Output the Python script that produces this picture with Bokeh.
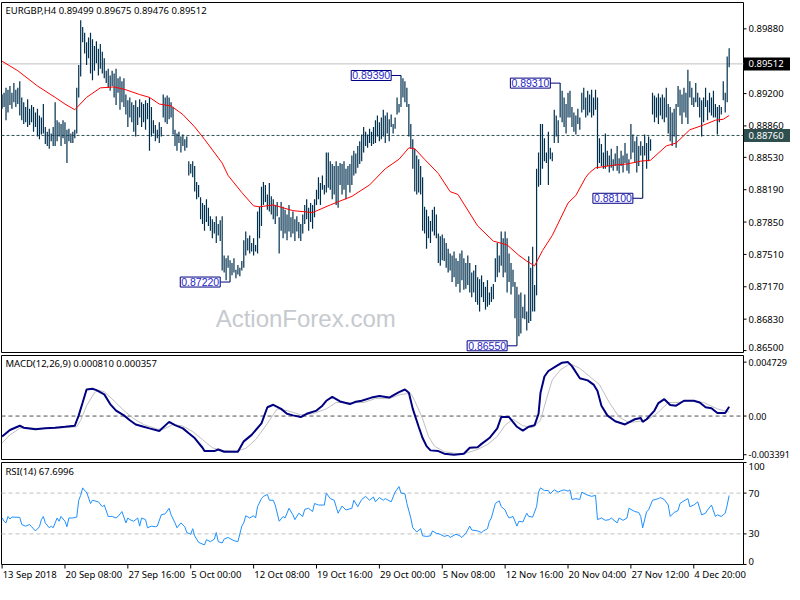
from bokeh.plotting import figure
from bokeh.layouts import column
from bokeh.models import Range1d, Label
from bokeh.core.properties import value
from bokeh.embed import file_html
from bokeh.resources import INLINE

# ---------------- data ----------------
symbol = "EURGBP,H4"
last_open, last_high, last_low, last_close = 0.89499, 0.89675, 0.89476, 0.89512
level_line = 0.88760

bar_high = [
 0.8919,0.8921,0.8926,0.8924,0.8928,0.8921,0.8931,0.8924,0.8926,0.8933,
 0.8916,0.8911,0.8906,0.8914,0.8904,0.8908,0.8906,0.8900,0.8904,0.8897,
 0.8895,0.8909,0.8885,0.8880,0.8883,0.8878,0.8885,0.8911,0.8892,0.8890,
 0.8888,0.8892,0.8890,0.8882,0.8883,0.8878,0.8880,0.8882,0.8926,0.8950,
 0.8997,0.8990,0.8984,0.8974,0.8979,0.8984,0.8977,0.8970,0.8975,0.8967,
 0.8972,0.8964,0.8957,0.8944,0.8946,0.8939,0.8944,0.8941,0.8946,0.8936,
 0.8938,0.8933,0.8936,0.8919,0.8913,0.8916,0.8911,0.8908,0.8913,0.8906,
 0.8914,0.8911,0.8909,0.8913,0.8910,0.8916,0.8906,0.8892,0.8887,0.8882,
 0.8890,0.8885,0.8919,0.8916,0.8918,0.8916,0.8911,0.8906,0.8882,0.8878,
 0.8880,0.8875,0.8877,0.8872,0.8875,0.8849,0.8846,0.8849,0.8844,0.8827,
 0.8824,0.8811,0.8805,0.8803,0.8809,0.8800,0.8791,0.8788,0.8785,0.8791,
 0.8783,0.8787,0.8791,0.8750,0.8747,0.8750,0.8745,0.8742,0.8747,0.8735,
 0.8740,0.8737,0.8744,0.8766,0.8775,0.8768,0.8771,0.8763,0.8768,0.8761,
 0.8796,0.8801,0.8822,0.8827,0.8824,0.8814,0.8826,0.8812,0.8809,0.8803,
 0.8806,0.8790,0.8806,0.8801,0.8798,0.8793,0.8803,0.8790,0.8796,0.8788,
 0.8791,0.8785,0.8783,0.8793,0.8803,0.8809,0.8800,0.8805,0.8803,0.8809,
 0.8819,0.8832,0.8826,0.8834,0.8824,0.8858,0.8858,0.8849,0.8846,0.8844,
 0.8849,0.8844,0.8847,0.8846,0.8849,0.8841,0.8844,0.8846,0.8855,0.8860,
 0.8857,0.8865,0.8870,0.8877,0.8885,0.8880,0.8877,0.8883,0.8880,0.8885,
 0.8892,0.8897,0.8890,0.8895,0.8903,0.8897,0.8900,0.8893,0.8898,0.8888,
 0.8895,0.8916,0.8909,0.8939,0.8936,0.8933,0.8926,0.8909,0.8888,0.8872,
 0.8862,0.8855,0.8851,0.8844,0.8832,0.8801,0.8798,0.8791,0.8786,0.8798,
 0.8801,0.8793,0.8773,0.8770,0.8772,0.8768,0.8763,0.8757,0.8752,0.8750,
 0.8754,0.8747,0.8744,0.8752,0.8755,0.8747,0.8742,0.8750,0.8742,0.8732,
 0.8734,0.8740,0.8727,0.8725,0.8729,0.8722,0.8717,0.8724,0.8711,0.8717,
 0.8720,0.8747,0.8763,0.8750,0.8775,0.8768,0.8775,0.8768,0.8752,0.8742,
 0.8735,0.8722,0.8717,0.8709,0.8711,0.8696,0.8709,0.8691,0.8749,0.8737,
 0.8759,0.8719,0.8841,0.8858,0.8888,0.8888,0.8873,0.8858,0.8880,0.8863,
 0.8858,0.8903,0.8897,0.8892,0.8931,0.8923,0.8916,0.8909,0.8921,0.8923,
 0.8906,0.8900,0.8897,0.8904,0.8895,0.8921,0.8926,0.8916,0.8923,0.8919,
 0.8924,0.8916,0.8924,0.8916,0.8873,0.8867,0.8858,0.8878,0.8860,0.8855,
 0.8862,0.8851,0.8857,0.8865,0.8852,0.8860,0.8855,0.8868,0.8857,0.8851,
 0.8888,0.8877,0.8870,0.8875,0.8865,0.8870,0.8865,0.8877,0.8868,0.8875,
 0.8872,0.8921,0.8918,0.8916,0.8920,0.8916,0.8919,0.8916,0.8926,0.8909,
 0.8906,0.8900,0.8904,0.8909,0.8928,0.8924,0.8919,0.8926,0.8921,0.8945,
 0.8933,0.8926,0.8916,0.8931,0.8921,0.8916,0.8913,0.8916,0.8926,0.8913,
 0.8921,0.8916,0.8923,0.8909,0.8906,0.8908,0.8906,0.8933,0.8921,0.8959,
 0.89675]

bar_low = [
 0.8904,0.8906,0.8892,0.8900,0.8908,0.8904,0.8911,0.8906,0.8909,0.8897,
 0.8892,0.8888,0.8890,0.8885,0.8887,0.8890,0.8880,0.8885,0.8875,0.8872,
 0.8877,0.8878,0.8867,0.8865,0.8862,0.8870,0.8865,0.8865,0.8870,0.8875,
 0.8865,0.8873,0.8867,0.8847,0.8870,0.8868,0.8868,0.8873,0.8878,0.8916,
 0.8938,0.8974,0.8962,0.8950,0.8957,0.8941,0.8934,0.8944,0.8952,0.8939,
 0.8946,0.8941,0.8936,0.8931,0.8926,0.8923,0.8928,0.8916,0.8908,0.8921,
 0.8903,0.8911,0.8906,0.8898,0.8885,0.8895,0.8890,0.8880,0.8875,0.8887,
 0.8895,0.8885,0.8890,0.8882,0.8893,0.8860,0.8875,0.8878,0.8870,0.8873,
 0.8868,0.8875,0.8895,0.8890,0.8888,0.8893,0.8895,0.8877,0.8865,0.8860,
 0.8868,0.8858,0.8865,0.8860,0.8863,0.8834,0.8836,0.8832,0.8817,0.8809,
 0.8811,0.8788,0.8783,0.8776,0.8785,0.8781,0.8776,0.8768,0.8773,0.8763,
 0.8771,0.8765,0.8734,0.8732,0.8724,0.8737,0.8722,0.8729,0.8732,0.8726,
 0.8730,0.8728,0.8734,0.8737,0.8750,0.8755,0.8752,0.8754,0.8750,0.8754,
 0.8752,0.8768,0.8781,0.8803,0.8806,0.8798,0.8796,0.8793,0.8788,0.8783,
 0.8791,0.8752,0.8776,0.8768,0.8773,0.8766,0.8775,0.8769,0.8773,0.8765,
 0.8775,0.8768,0.8765,0.8773,0.8783,0.8788,0.8776,0.8785,0.8778,0.8790,
 0.8803,0.8809,0.8803,0.8819,0.8814,0.8816,0.8821,0.8819,0.8809,0.8814,
 0.8803,0.8800,0.8824,0.8814,0.8819,0.8809,0.8824,0.8816,0.8824,0.8834,
 0.8836,0.8842,0.8846,0.8849,0.8858,0.8865,0.8863,0.8868,0.8865,0.8867,
 0.8868,0.8875,0.8870,0.8872,0.8875,0.8868,0.8878,0.8870,0.8885,0.8878,
 0.8883,0.8898,0.8900,0.8906,0.8916,0.8911,0.8906,0.8875,0.8862,0.8841,
 0.8817,0.8814,0.8816,0.8814,0.8776,0.8773,0.8757,0.8768,0.8763,0.8775,
 0.8771,0.8768,0.8742,0.8739,0.8745,0.8744,0.8737,0.8732,0.8734,0.8722,
 0.8727,0.8717,0.8720,0.8711,0.8724,0.8714,0.8715,0.8719,0.8711,0.8706,
 0.8711,0.8701,0.8698,0.8691,0.8706,0.8701,0.8693,0.8696,0.8698,0.8701,
 0.8704,0.8722,0.8727,0.8732,0.8739,0.8727,0.8732,0.8711,0.8722,0.8709,
 0.8717,0.8684,0.8655,0.8665,0.8668,0.8684,0.8683,0.8671,0.8679,0.8681,
 0.8691,0.8691,0.8708,0.8822,0.8824,0.8841,0.8849,0.8847,0.8824,0.8851,
 0.8849,0.8868,0.8875,0.8868,0.8895,0.8890,0.8885,0.8878,0.8895,0.8895,
 0.8885,0.8880,0.8877,0.8888,0.8882,0.8900,0.8903,0.8895,0.8897,0.8900,
 0.8895,0.8897,0.8903,0.8841,0.8847,0.8844,0.8841,0.8841,0.8844,0.8837,
 0.8842,0.8839,0.8844,0.8839,0.8836,0.8844,0.8837,0.8847,0.8839,0.8836,
 0.8851,0.8858,0.8847,0.8837,0.8844,0.8855,0.8810,0.8855,0.8841,0.8849,
 0.8860,0.8898,0.8890,0.8895,0.8888,0.8897,0.8893,0.8890,0.8895,0.8878,
 0.8870,0.8865,0.8875,0.8863,0.8906,0.8897,0.8888,0.8900,0.8895,0.8888,
 0.8916,0.8908,0.8906,0.8911,0.8906,0.8895,0.8875,0.8890,0.8906,0.8892,
 0.8900,0.8897,0.8895,0.8895,0.8877,0.8890,0.8898,0.8913,0.8900,0.8911,
 0.89476]

# moving average (red), read at bar positions
ma_idx = [0, 8, 18, 27, 32, 37, 43, 50, 57, 63, 70, 75, 80, 86, 92, 98, 103, 112, 115,
          122, 128, 131, 138, 148, 158, 167, 178, 187, 195, 202, 207, 210, 215, 222, 228,
          232, 242, 250, 257, 263, 267, 271, 275, 280, 288, 292, 297, 299, 302, 312, 318,
          325, 330, 338, 343, 350, 357, 363, 367, 370]
ma_val = [0.8954, 0.8944, 0.8928, 0.8916, 0.8909, 0.8903, 0.8916, 0.8926, 0.8927, 0.8924,
          0.8919, 0.8916, 0.8909, 0.8907, 0.8898, 0.8885, 0.8872, 0.8847, 0.8834, 0.8816,
          0.8802, 0.8801, 0.8803, 0.8797, 0.8795, 0.8803, 0.8812, 0.8824, 0.8841, 0.8851,
          0.8863, 0.8862, 0.8851, 0.8836, 0.8817, 0.8814, 0.8781, 0.8765, 0.8761, 0.8750,
          0.8744, 0.8739, 0.8755, 0.8771, 0.8805, 0.8813, 0.8832, 0.8837, 0.8842, 0.8845,
          0.8846, 0.8849, 0.8850, 0.8865, 0.8868, 0.8882, 0.8887, 0.8892, 0.8893, 0.8897]

# swing labels
swing_idx = [116, 203, 262, 284, 326]
swing_val = [0.8722, 0.8939, 0.8655, 0.8931, 0.8810]

price_ticks = [0.8650, 0.8683, 0.8717, 0.8751, 0.8785, 0.8819, 0.8853, 0.8886, 0.8920, 0.8988]

# MACD(12,26,9)
macd_idx = [0, 4, 9, 11, 17, 22, 27, 32, 37, 39, 41, 43, 46, 48, 52, 55, 58, 62, 65, 68, 72,
            75, 80, 85, 88, 92, 95, 98, 102, 103, 108, 110, 113, 120, 123, 127, 132, 135, 138,
            142, 145, 148, 152, 155, 160, 163, 165, 168, 172, 177, 180, 183, 188, 192, 197,
            202, 205, 207, 209, 212, 214, 216, 218, 222, 225, 230, 235, 238, 242, 244, 248,
            252, 254, 258, 262, 265, 268, 271, 273, 274, 276, 278, 282, 285, 288, 290, 294,
            298, 301, 303, 305, 308, 312, 317, 322, 325, 326, 328, 332, 334, 337, 340, 343,
            347, 352, 355, 358, 361, 364, 368, 370]
macd_val = [-0.00179, -0.00122, -0.00085, -0.00102, -0.00116, -0.00108, -0.00102, -0.00094,
            -0.00085, 0.00006, 0.00119, 0.00233, 0.00239, 0.00227, 0.00190, 0.00105, 0.00048,
            0.00006, -0.00037, -0.00074, -0.00094, -0.00108, -0.00131, -0.00051, -0.00080,
            -0.00108, -0.00151, -0.00193, -0.00278, -0.00307, -0.00307, -0.00293, -0.00313,
            -0.00313, -0.00222, -0.00165, -0.00065, 0.00077, 0.00099, 0.00063, 0.00020,
            0.00006, -0.00009, 0.00020, 0.00048, 0.00091, 0.00134, 0.00168, 0.00128, 0.00105,
            0.00125, 0.00134, 0.00162, 0.00176, 0.00162, 0.00210, 0.00233, 0.00205, 0.00063,
            -0.00094, -0.00193, -0.00264, -0.00301, -0.00307, -0.00330, -0.00339, -0.00330,
            -0.00278, -0.00273, -0.00244, -0.00193, -0.00108, -0.00009, -0.00009, -0.00094,
            -0.00128, -0.00094, -0.00080, 0.00020, 0.00205, 0.00347, 0.00395, 0.00438, 0.00468,
            0.00473, 0.00438, 0.00332, 0.00313, 0.00276, 0.00219, 0.00091, 0.00006, -0.00045,
            -0.00074, -0.00028, -0.00017, -0.00051, -0.00028, 0.00048, 0.00114, 0.00148,
            0.00097, 0.00091, 0.00134, 0.00134, 0.00119, 0.00077, 0.00068, 0.00026, 0.00026,
            0.00081]
signal_idx = [0, 4, 9, 12, 18, 25, 32, 38, 40, 43, 47, 49, 52, 57, 62, 67, 72, 79, 82, 87, 92,
              97, 102, 107, 112, 119, 124, 129, 135, 140, 145, 152, 158, 165, 170, 177, 184,
              190, 197, 203, 208, 210, 214, 217, 220, 225, 232, 237, 242, 247, 252, 256, 260,
              265, 270, 274, 277, 280, 284, 289, 294, 299, 304, 309, 314, 319, 325, 330, 334,
              339, 344, 350, 357, 364, 369, 370]
signal_val = [-0.00236, -0.00165, -0.00108, -0.00102, -0.00108, -0.00108, -0.00102, -0.00094,
              -0.00037, 0.00091, 0.00205, 0.00227, 0.00213, 0.00134, 0.00048, -0.00023,
              -0.00074, -0.00114, -0.00116, -0.00074, -0.00088, -0.00136, -0.00207, -0.00278,
              -0.00301, -0.00307, -0.00284, -0.00207, -0.00065, 0.00063, 0.00048, 0.00011,
              0.00020, 0.00063, 0.00119, 0.00119, 0.00119, 0.00153, 0.00153, 0.00190, 0.00199,
              0.00134, -0.00023, -0.00179, -0.00264, -0.00313, -0.00330, -0.00321, -0.00293,
              -0.00250, -0.00179, -0.00080, -0.00028, -0.00085, -0.00102, -0.00037, 0.00148,
              0.00318, 0.00403, 0.00460, 0.00418, 0.00347, 0.00276, 0.00119, -0.00009,
              -0.00057, -0.00045, -0.00017, 0.00034, 0.00119, 0.00119, 0.00134, 0.00119,
              0.00063, 0.00040, 0.000357]
macd_last, signal_last = 0.000810, 0.000357
macd_ticks = [-0.003391, 0.0, 0.004729]
macd_tick_labels = ["-0.003391", "0.00", "0.004729"]

# RSI(14)
rsi_idx = [0, 1, 2, 3, 4, 5, 9, 10, 12, 14, 15, 17, 19, 20, 21, 22, 24, 25, 26, 28, 29, 30, 32,
           33, 34, 36, 38, 39, 40, 41, 42, 43, 45, 46, 49, 51, 52, 54, 56, 58, 59, 61, 63, 64,
           65, 67, 69, 70, 71, 73, 74, 76, 78, 79, 81, 83, 85, 86, 88, 89, 91, 93, 94, 96, 97,
           98, 100, 103, 104, 106, 108, 109, 110, 112, 113, 115, 118, 120, 122, 123, 124, 126,
           128, 129, 130, 132, 133, 135, 136, 138, 139, 141, 143, 144, 146, 148, 149, 151, 153,
           154, 156, 158, 159, 161, 164, 165, 167, 169, 171, 173, 175, 178, 179, 181, 183, 185,
           187, 189, 190, 192, 194, 195, 198, 200, 202, 203, 205, 206, 208, 209, 211, 213, 214,
           216, 218, 219, 221, 223, 225, 227, 228, 231, 233, 234, 236, 238, 239, 242, 244, 245,
           247, 248, 249, 251, 253, 254, 256, 257, 258, 260, 262, 263, 265, 267, 268, 270, 272,
           273, 274, 276, 278, 279, 281, 283, 284, 286, 288, 289, 290, 292, 294, 295, 297, 300,
           302, 303, 305, 307, 309, 310, 313, 314, 316, 318, 319, 322, 324, 325, 326, 328, 329,
           331, 334, 335, 337, 339, 340, 342, 344, 345, 347, 349, 350, 352, 354, 356, 358, 359,
           361, 363, 364, 366, 368, 369, 370]
rsi_val = [45.6, 42.4, 40.8, 47.1, 44.6, 46.5, 46.2, 39.2, 37.6, 39.2, 37.0, 32.9, 37.0, 44.0,
           47.1, 40.8, 36.0, 37.6, 36.0, 45.6, 42.4, 47.1, 42.4, 37.0, 45.6, 45.6, 46.5, 63.0,
           67.8, 75.1, 72.5, 71.0, 59.8, 63.0, 61.4, 56.7, 58.3, 47.1, 47.1, 45.6, 47.1, 51.9,
           40.8, 45.6, 44.0, 42.4, 45.6, 37.6, 45.6, 44.0, 36.0, 37.6, 37.0, 37.6, 48.7, 49.7,
           55.1, 48.7, 40.8, 36.0, 40.8, 37.0, 31.3, 29.7, 35.1, 28.1, 21.7, 19.2, 24.3, 22.4,
           24.9, 31.3, 22.4, 21.1, 24.9, 26.5, 23.3, 22.4, 37.6, 40.8, 47.8, 45.6, 47.8, 45.6,
           56.7, 64.6, 66.8, 68.7, 63.0, 63.0, 58.3, 42.4, 47.1, 45.6, 55.1, 48.7, 44.0, 50.3,
           47.1, 54.1, 55.1, 51.9, 59.8, 58.3, 58.3, 70.0, 64.6, 63.0, 50.3, 57.3, 53.5, 55.1,
           63.0, 56.7, 63.7, 66.8, 63.0, 66.2, 61.4, 65.6, 63.0, 64.6, 61.4, 71.0, 76.4, 70.0,
           69.4, 59.8, 45.6, 36.0, 31.9, 35.1, 28.1, 27.5, 28.1, 32.9, 30.6, 29.7, 27.5, 28.7,
           26.5, 29.7, 28.1, 26.5, 30.6, 37.6, 33.8, 32.9, 31.3, 32.9, 35.1, 42.4, 45.6, 59.8,
           62.4, 56.7, 53.5, 48.7, 45.6, 47.1, 37.6, 42.4, 41.7, 50.3, 47.1, 46.5, 56.7, 71.0,
           75.1, 72.5, 72.5, 69.4, 73.2, 71.0, 71.9, 73.2, 71.9, 73.2, 63.7, 64.6, 63.7, 71.0,
           68.7, 66.8, 67.8, 44.0, 45.6, 43.3, 44.0, 45.6, 40.8, 45.6, 43.3, 45.6, 55.1, 51.9,
           51.0, 47.1, 36.0, 51.9, 53.5, 63.0, 64.6, 65.6, 63.7, 58.3, 47.1, 51.0, 52.9, 59.8,
           62.4, 64.6, 56.7, 58.3, 61.4, 48.7, 50.3, 53.5, 58.3, 47.1, 48.7, 47.1, 50.3, 58.3,
           67.7]
rsi_last = "67.6996"
rsi_ticks = [0, 30, 70, 100]
rsi_levels = [30, 70]

time_idx = [0, 32, 64, 96, 128, 160, 192, 224, 256, 288, 320, 352]
time_labels = ["13 Sep 2018", "20 Sep 08:00", "27 Sep 16:00", "5 Oct 00:00", "12 Oct 08:00",
               "19 Oct 16:00", "29 Oct 00:00", "5 Nov 08:00", "12 Nov 16:00", "20 Nov 04:00",
               "27 Nov 12:00", "4 Dec 20:00"]

# ---------------- geometry / styling ----------------
FONT = "Noto Sans"
FS = "9.5px"
BAR = "#00304f"
SW_BOX = "#000080"
SW_TXT = "#2626c8"
FRAME_W = 790            # whole figure width (chart area + right scale column)
DATA_W = 742             # pixels of the chart area
X0, X1 = -0.3, 377.3     # bar-index span of the chart area
PXB = DATA_W / (X1 - X0)
XS = X0 - 1 / PXB
XE = XS + FRAME_W / PXB
TICK_END = X1 + 3 / PXB
LAB_X = X1 + 5 / PXB
BOX_X0 = X1 + 0.5 / PXB

bar_idx = list(range(len(bar_high)))
xr = Range1d(XS, XE)


def make_fig(total_h, data_h, pad_top, lo, hi):
    ppu = data_h / (hi - lo)
    pad_bot = total_h - data_h - pad_top
    yr = Range1d(lo - pad_bot / ppu, hi + pad_top / ppu)
    p = figure(frame_width=FRAME_W, frame_height=total_h, x_range=xr, y_range=yr,
               output_backend="svg", toolbar_location=None,
               x_axis_location=None, y_axis_location=None,
               min_border_left=0, min_border_right=0, min_border_top=0, min_border_bottom=0,
               background_fill_color="white", border_fill_color="white")
    p.outline_line_color = None
    p.xgrid.grid_line_color = None
    p.ygrid.grid_line_color = None
    # chart-area frame
    p.quad(left=[X0], right=[X1], bottom=[lo], top=[hi], fill_color=None,
           line_color="black", line_width=1)
    return p, ppu


def texts(p, xs, ys, labels, color="black", align="left", baseline="middle",
          size=FS, font=FONT):
    p.text(x=xs, y=ys, text=labels, text_color=color, text_font=value(font),
           text_font_size=value(size), text_align=value(align),
           text_baseline=value(baseline))


def right_scale(p, ticks, labels, size=FS, baselines=None):
    p.segment(x0=[X1] * len(ticks), y0=ticks, x1=[TICK_END] * len(ticks), y1=ticks,
              line_color="black", line_width=1)
    if baselines is None:
        baselines = ["middle"] * len(ticks)
    for t, s, b in zip(ticks, labels, baselines):
        texts(p, [LAB_X], [t], [s], size=size, baseline=b)


def lab(p, x, y, text, **kw):
    opts = dict(text_font=FONT, text_font_size=FS, text_color="black",
                text_baseline="middle", text_align="left")
    opts.update(kw)
    p.add_layout(Label(x=x, y=y, text=text, **opts))


# ---- main price panel ----
P_LO, P_HI = 0.864796, 0.90157
pm, pppu = make_fig(353, 350, 2, P_LO, P_HI)

pm.add_layout(Label(x=154.5, y=0.86837, text="ActionForex.com", text_font="Liberation Sans",
                    text_font_size="24px", text_color="#c6cacf", text_align="center",
                    text_baseline="middle", level="underlay"))
pm.segment(x0=[X0], y0=[last_close], x1=[X1], y1=[last_close], line_color="#c0c0c0",
           line_width=1)
pm.segment(x0=[X0], y0=[level_line], x1=[X1], y1=[level_line], line_color="#2f4f4f",
           line_width=1, line_dash="3 2")
pm.segment(x0=bar_idx, y0=bar_low, x1=bar_idx, y1=bar_high, line_color=BAR, line_width=1.2)
pm.line(ma_idx, ma_val, line_color="#ff0000", line_width=1)

pm.segment(x0=[i - 5 for i in swing_idx], y0=swing_val, x1=swing_idx, y1=swing_val,
           line_color=SW_BOX, line_width=1)
for i, v in zip(swing_idx, swing_val):
    lab(pm, i - 5, v, f"{v:.5f}", text_align="right", text_color=SW_TXT,
        text_font="Liberation Sans", text_font_size="10.5px",
        background_fill_color="white", border_line_color=SW_BOX, border_line_width=1,
        padding=1)

lab(pm, 1.7, 0.90076,
    f"{symbol}  {last_open:.5f} {last_high:.5f} {last_low:.5f} {last_close:.5f}")

right_scale(pm, price_ticks, [f"{t:.5f}" for t in price_ticks],
            baselines=["bottom"] + ["middle"] * (len(price_ticks) - 1))
box_h = 6.5 / pppu
pm.quad(left=[BOX_X0, BOX_X0], right=[XE, XE],
        bottom=[last_close - box_h, level_line - box_h],
        top=[last_close + box_h, level_line + box_h],
        fill_color=["#000000", "#2f4f4f"], line_color=None)
texts(pm, [LAB_X, LAB_X], [last_close, level_line],
      [f"{last_close:.5f}", f"{level_line:.5f}"], color="white")

# ---- MACD panel ----
M_LO, M_HI = -0.00381, 0.00531
pc, mppu = make_fig(107, 104, 2, M_LO, M_HI)
pc.segment(x0=[X0], y0=[0], x1=[X1], y1=[0], line_color="#505050", line_width=1,
           line_dash="4 3")
pc.line(signal_idx, signal_val, line_color="#c0c0c0", line_width=1)
pc.line(macd_idx, macd_val, line_color="#000080", line_width=2)
lab(pc, 1.7, M_HI - 8 / mppu, f"MACD(12,26,9) {macd_last:.6f} {signal_last:.6f}")
right_scale(pc, macd_ticks, macd_tick_labels, size="9px")

# ---- RSI panel ----
pr, rppu = make_fig(122, 102, 2, 0, 100)
pr.segment(x0=[X0] * len(rsi_levels), y0=rsi_levels, x1=[X1] * len(rsi_levels), y1=rsi_levels,
           line_color="#c0c0c0", line_width=1, line_dash="4 3")
pr.line(rsi_idx, rsi_val, line_color="#1e90ff", line_width=1)
lab(pr, 1.7, 100 - 8.5 / rppu, f"RSI(14) {rsi_last}")
right_scale(pr, rsi_ticks, [str(t) for t in rsi_ticks],
            baselines=["bottom", "middle", "middle", "top"])

# time scale below the RSI panel
pr.segment(x0=time_idx, y0=[0] * len(time_idx), x1=time_idx, y1=[-4 / rppu] * len(time_idx),
           line_color="black", line_width=1)
texts(pr, [t + 0.3 for t in time_idx], [-9.5 / rppu] * len(time_idx), time_labels)

layout = column(pm, pc, pr)
open("out.html", "w").write(file_html(layout, INLINE))
